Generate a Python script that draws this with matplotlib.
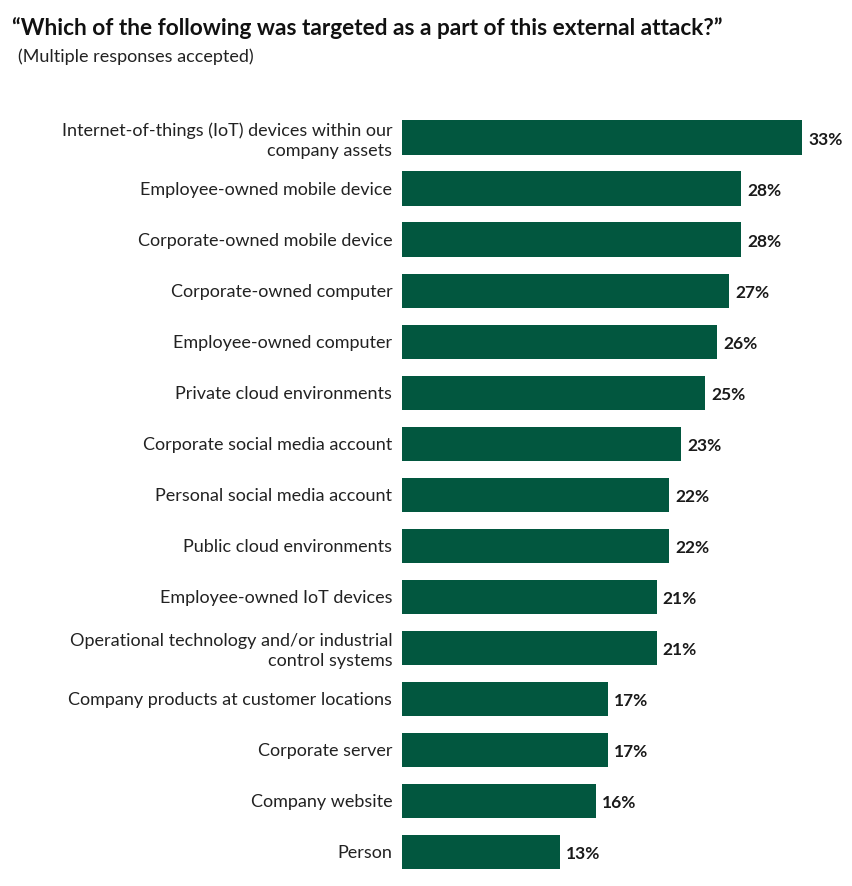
import matplotlib
matplotlib.use("Agg")
import matplotlib.pyplot as plt

categories = [
    "Internet-of-things (IoT) devices within our\ncompany assets",
    "Employee-owned mobile device",
    "Corporate-owned mobile device",
    "Corporate-owned computer",
    "Employee-owned computer",
    "Private cloud environments",
    "Corporate social media account",
    "Personal social media account",
    "Public cloud environments",
    "Employee-owned IoT devices",
    "Operational technology and/or industrial\ncontrol systems",
    "Company products at customer locations",
    "Corporate server",
    "Company website",
    "Person",
]
values = [33, 28, 28, 27, 26, 25, 23, 22, 22, 21, 21, 17, 17, 16, 13]

plt.rcParams['font.family'] = ['Lato', 'DejaVu Sans']
W, H = 852, 886
fig = plt.figure(figsize=(W/100, H/100), dpi=100)
left = 402 / W
right = 852 / W
top = 1 - 112 / H
bottom = 1 - 877.5 / H
ax = fig.add_axes([left, bottom, right - left, top - bottom])

color = "#02573F"
y = list(range(len(categories)))
ax.barh(y, values, height=0.67, color=color)
ax.set_ylim(len(categories) - 0.5, -0.5)
ax.set_xlim(0, 450 / (400 / 33))
for yi, v in zip(y, values):
    ax.annotate(f"{v}%", xy=(v, yi), xytext=(4.5, -1.5), textcoords="offset points",
                va="center", ha="left", fontsize=12.5, fontweight="bold", color="#1a1a1a")
ax.set_yticks(y)
ax.set_yticklabels(categories, fontsize=13, color="#222222", linespacing=1.25)
ax.tick_params(axis="y", length=0, pad=7)
ax.set_xticks([])
for s in ax.spines.values():
    s.set_visible(False)

fig.text(12 / W, 1 - 28 / H, "\u201cWhich of the following was targeted as a part of this external attack?\u201d",
         fontsize=16.3, fontweight="bold", va="center", ha="left", color="#111111")
fig.text(18 / W, 1 - 57 / H, "(Multiple responses accepted)",
         fontsize=13, va="center", ha="left", color="#222222")

fig.savefig("out.png", dpi=100, facecolor="white")
